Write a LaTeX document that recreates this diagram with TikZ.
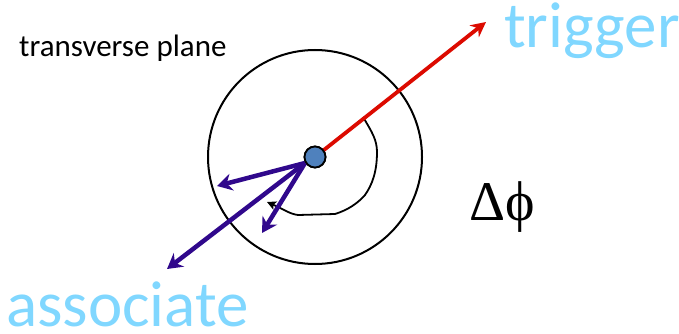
\documentclass[tikz,border=0pt]{standalone}
\usepackage{fontspec}
\setmainfont{Carlito}
\newfontfamily\serifgreek{Liberation Serif}
\usetikzlibrary{arrows.meta}
\definecolor{lblue}{RGB}{128,215,255}
\definecolor{trigred}{RGB}{220,10,0}
\definecolor{assocpurple}{RGB}{48,8,140}
\definecolor{dotblue}{RGB}{79,129,189}
\tikzset{
  trig/.style={draw=trigred, line width=3.8pt, -{Stealth[length=15pt,width=15pt,inset=5pt]}},
  assoc/.style={draw=assocpurple, line width=4.5pt, -{Stealth[length=15pt,width=17pt,inset=5pt]}},
  label/.style={text=lblue, font=\fontsize{65}{65}\selectfont, inner sep=0pt, text depth=0pt, anchor=base west},
  ring/.style={draw=black, line width=2pt},
}
\begin{document}
\begin{tikzpicture}[x=1pt,y=-1pt]
\useasboundingbox (0,0) rectangle (679,334);
% outer circle
\draw[ring] (315,157) circle[radius=107];
% delta phi arc
\draw[ring, -{Stealth[length=9pt,width=9pt,inset=2pt]}, line width=1.8pt]
  (363,117) .. controls (372,132) and (377,140) .. (377,152)
  .. controls (377,172) and (372,185) .. (365,195)
  .. controls (358,203) and (348,210) .. (335,214)
  -- (298,215) .. controls (290,214) and (285,210) .. (267,202);
% nodes
\node[circle, fill=dotblue, draw=black, line width=1.8pt, minimum size=21pt, inner sep=0pt] (o) at (315,157) {};
\coordinate (t) at (486,22);
\coordinate (a1) at (217,186);
\coordinate (a2) at (167,269);
\coordinate (a3) at (262,233);
\coordinate (s) at (305,163);
\draw[trig] (o.center) -- (t);
\draw[assoc] (s) -- (a1);
\draw[assoc] (s) -- (a2);
\draw[assoc] (s) -- (a3);
\node[circle, fill=dotblue, draw=black, line width=1.8pt, minimum size=21pt, inner sep=0pt] at (o) {};
\node[label] (trig) at (504,48) {trigger};
\node[label] (assoclab) at (6,326) {associate};
\node[inner sep=0pt, anchor=base west, font=\fontsize{31}{31}\selectfont] (tp) at (19,57) {transverse plane};
\node[inner sep=0pt, anchor=base west, font=\serifgreek\fontsize{56}{56}\selectfont] (dphi) at (469,220) {Δϕ};
\end{tikzpicture}
\end{document}
